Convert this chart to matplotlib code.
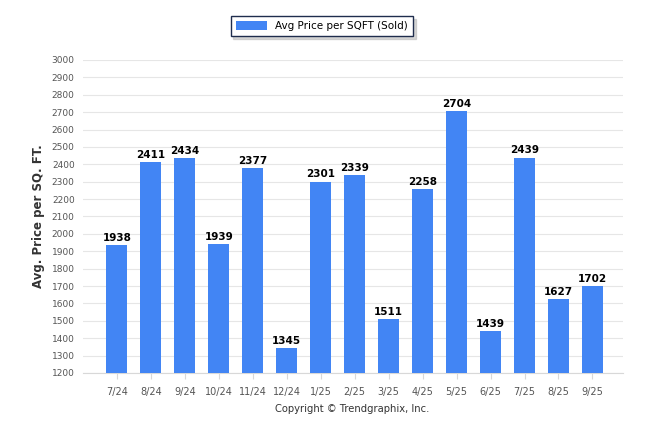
import matplotlib.pyplot as plt
from matplotlib.ticker import MultipleLocator

months = ['7/24', '8/24', '9/24', '10/24', '11/24', '12/24', '1/25', '2/25',
          '3/25', '4/25', '5/25', '6/25', '7/25', '8/25', '9/25']
avg_price = [1938, 2411, 2434, 1939, 2377, 1345, 2301, 2339,
             1511, 2258, 2704, 1439, 2439, 1627, 1702]

fig = plt.figure(figsize=(6.46, 4.34), dpi=100)
ax = fig.add_axes([83 / 646, 1 - 373 / 434, 540 / 646, 313 / 434])

x = list(range(len(months)))
bars = ax.bar(x, avg_price, width=0.62, color='#4285f4', bottom=0,
              label='Avg Price per SQFT (Sold)', zorder=3)
for xi, v in zip(x, avg_price):
    ax.text(xi, v + 12, str(v), ha='center', va='bottom', fontsize=7.5,
            fontweight='bold', color='black')

ax.set_ylim(1200, 3000)
ax.set_xlim(-1, 14.9)
ax.yaxis.set_major_locator(MultipleLocator(100))
ax.set_xticks(x)
ax.set_xticklabels(months)
ax.grid(axis='y', color='#e6e6e6', linewidth=0.8, zorder=0)
for s in ['top', 'right', 'left']:
    ax.spines[s].set_visible(False)
ax.spines['bottom'].set_color('#d8d8d8')
ax.tick_params(axis='y', length=0, labelsize=6.5, labelcolor='#555555', pad=6)
ax.tick_params(axis='x', length=4, color='#d8d8d8', labelsize=7,
               labelcolor='#555555', pad=6)
ax.set_ylabel('Avg. Price per SQ. FT.', fontsize=8.5, fontweight='bold',
              color='#333333', labelpad=5)

leg = fig.legend(handles=[bars], loc='center', bbox_to_anchor=(322 / 646, 1 - 26 / 434),
                 fontsize=7.5, frameon=True, fancybox=False,
                 shadow={'color': '#b0b0b0', 'ox': 2, 'oy': -2},
                 handlelength=3, handleheight=0.9, borderpad=0.5)
leg.get_frame().set_edgecolor('#1f2d4d')
leg.get_frame().set_linewidth(1)

fig.text(352 / 646, 1 - 409 / 434, 'Copyright \u00a9 Trendgraphix, Inc.', ha='center',
         va='center', fontsize=7.2, color='#333333')

fig.savefig('out.png', dpi=100)
